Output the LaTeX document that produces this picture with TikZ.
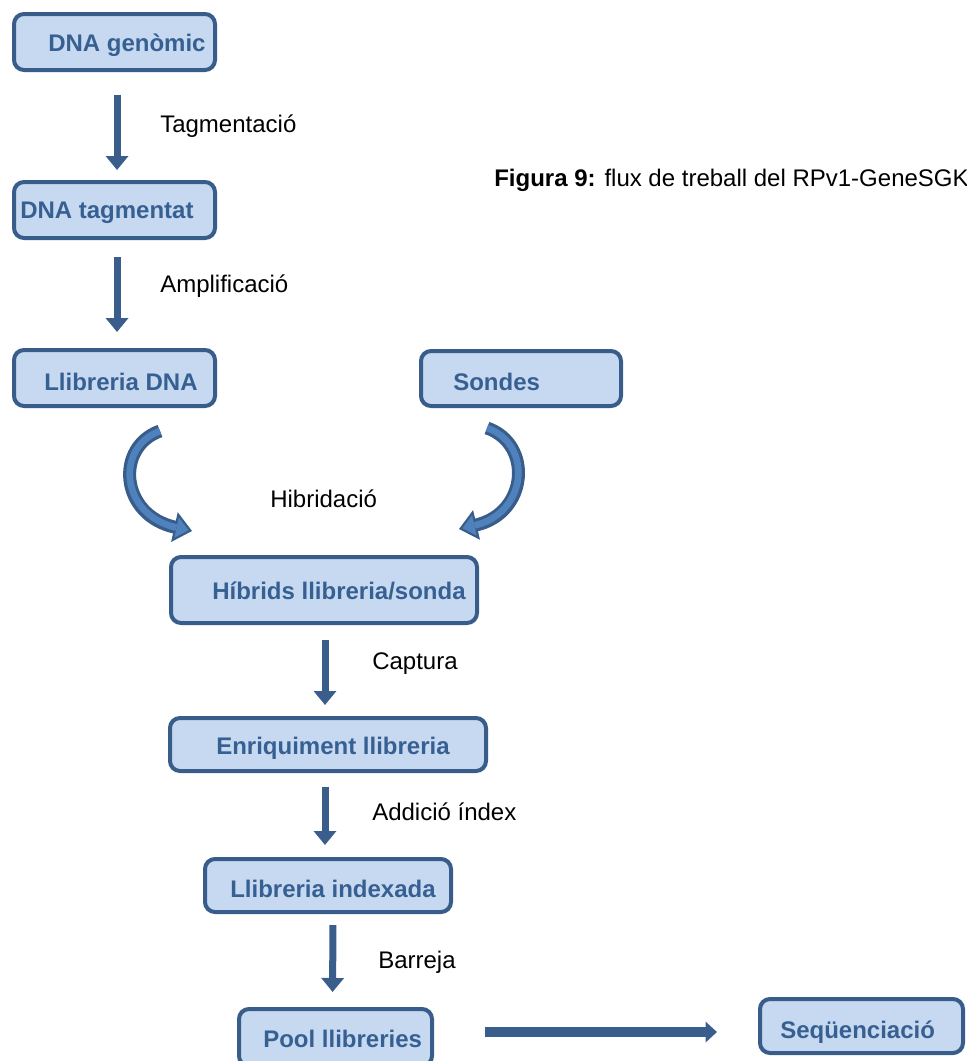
\documentclass[tikz,border=0pt]{standalone}
\usepackage{fontspec}
\setmainfont{Liberation Sans}
\usetikzlibrary{arrows.meta}

\definecolor{boxfill}{HTML}{C6D9F1}
\definecolor{boxline}{HTML}{385D8A}
\definecolor{boxtext}{HTML}{376092}
\definecolor{arrowblue}{HTML}{3A5E8C}
\definecolor{arrowlight}{HTML}{4F81BD}

\tikzset{
  stagebox/.style={draw=boxline, fill=boxfill, line width=3pt, rounded corners=7.5pt,
    inner sep=0pt},
  stagetext/.style={anchor=base west, inner sep=0pt, text=boxtext,
    font=\fontsize{18}{21.6}\selectfont\bfseries},
  steplabel/.style={anchor=base west, inner sep=0pt, text=black,
    font=\fontsize{18}{21.6}\selectfont},
  downarrow/.style={draw=arrowblue, line width=5.25pt,
    -{Triangle[length=10.5pt, width=16.5pt]}},
  sidearrow/.style={draw=arrowblue, line width=7.5pt,
    -{Triangle[length=8.5pt, width=15pt]}},
  bendout/.style={draw=boxline, line width=9.75pt,
    -{Triangle[length=13.5pt, width=22.5pt, fill=arrowlight, line width=1.6pt]}},
  bendin/.style={draw=arrowlight, line width=5pt, shorten >=12pt},
}

\begin{document}
\begin{tikzpicture}[x=0.75pt, y=-0.75pt]
\useasboundingbox (0,0) rectangle (967,1061);
\clip (0,0) rectangle (967,1061);

% stage boxes
\node[stagebox, minimum width=150.75pt, minimum height=42pt] (genomic) at (114.5,42) {};
\node[stagebox, minimum width=150.75pt, minimum height=42pt] (tagm) at (114.5,210) {};
\node[stagebox, minimum width=150.75pt, minimum height=42pt] (lib) at (114.5,378) {};
\node[stagebox, minimum width=150pt, minimum height=41.25pt] (probes) at (521,378.5) {};
\node[stagebox, minimum width=229.5pt, minimum height=49.5pt] (hybrid) at (324,590) {};
\node[stagebox, minimum width=237pt, minimum height=39.75pt] (enrich) at (328,744.5) {};
\node[stagebox, minimum width=184.5pt, minimum height=39.75pt] (indexed) at (328,885.5) {};
\node[stagebox, minimum width=144.75pt, minimum height=42.75pt] (pool) at (335.5,1037.5) {};
\node[stagebox, minimum width=152.25pt, minimum height=40.5pt] (seq) at (861.5,1026) {};

% box texts
\node[stagetext] (t-genomic) at (48,51.5) {DNA genòmic};
\node[stagetext] (t-tagm) at (20,218.5) {DNA tagmentat};
\node[stagetext] (t-lib) at (44,390.5) {Llibreria DNA};
\node[stagetext] (t-probes) at (453,390) {Sondes};
\node[stagetext] (t-hybrid) at (212,599) {Híbrids llibreria/sonda};
\node[stagetext] (t-enrich) at (216,754.5) {Enriquiment llibreria};
\node[stagetext] (t-indexed) at (230,897.5) {Llibreria indexada};
\node[stagetext] (t-pool) at (263,1047.5) {Pool llibreries};
\node[stagetext] (t-seq) at (780,1038) {Seqüenciació};

% step labels
\node[steplabel] (l-tag) at (160,132) {Tagmentació};
\node[steplabel] (l-amp) at (160,292.5) {Amplificació};
\node[steplabel] (l-hyb) at (270,507) {Hibridació};
\node[steplabel] (l-cap) at (372,669.5) {Captura};
\node[steplabel] (l-idx) at (372,820.5) {Addició índex};
\node[steplabel] (l-mix) at (378,968.5) {Barreja};

% caption
\node[steplabel] (caption) at (494,186) {\textbf{Figura 9:} flux de treball del RPv1-GeneSGKi};

% straight arrows
\draw[downarrow, shorten <=17pt, shorten >=7.5pt]
  ([xshift=1.9pt]genomic.south) -- ([xshift=1.9pt]tagm.north);
\draw[downarrow, shorten <=12.75pt, shorten >=12pt]
  ([xshift=1.9pt]tagm.south) -- ([xshift=1.9pt]lib.north);
\draw[downarrow, shorten <=11.25pt, shorten >=8.25pt]
  ([xshift=0.75pt]hybrid.south) -- ([xshift=-2.25pt]enrich.north);
\draw[downarrow, shorten <=10.5pt, shorten >=9pt]
  ([xshift=-2.25pt]enrich.south) -- ([xshift=-2.25pt]indexed.north);
\draw[downarrow, shorten <=8.25pt, shorten >=11.25pt]
  ([xshift=3.75pt]indexed.south) -- ([xshift=-2.25pt]pool.north);
\draw[sidearrow, shorten <=38pt, shorten >=30.75pt]
  ([yshift=4.1pt]pool.east) -- ([yshift=4.1pt]pool.east -| seq.west);

% curved hybridisation arrows
\coordinate (libtail) at (160,431);
\coordinate (libhead) at (192,531);
\coordinate (probetail) at (487,428);
\coordinate (probehead) at (459,529);
\draw[bendout] (libtail) .. controls (115,447) and (120,515) .. (libhead);
\draw[bendin] (libtail) .. controls (115,447) and (120,515) .. (libhead);
\draw[bendout] (probetail) .. controls (533,444) and (528,513) .. (probehead);
\draw[bendin] (probetail) .. controls (533,444) and (528,513) .. (probehead);
\end{tikzpicture}
\end{document}
